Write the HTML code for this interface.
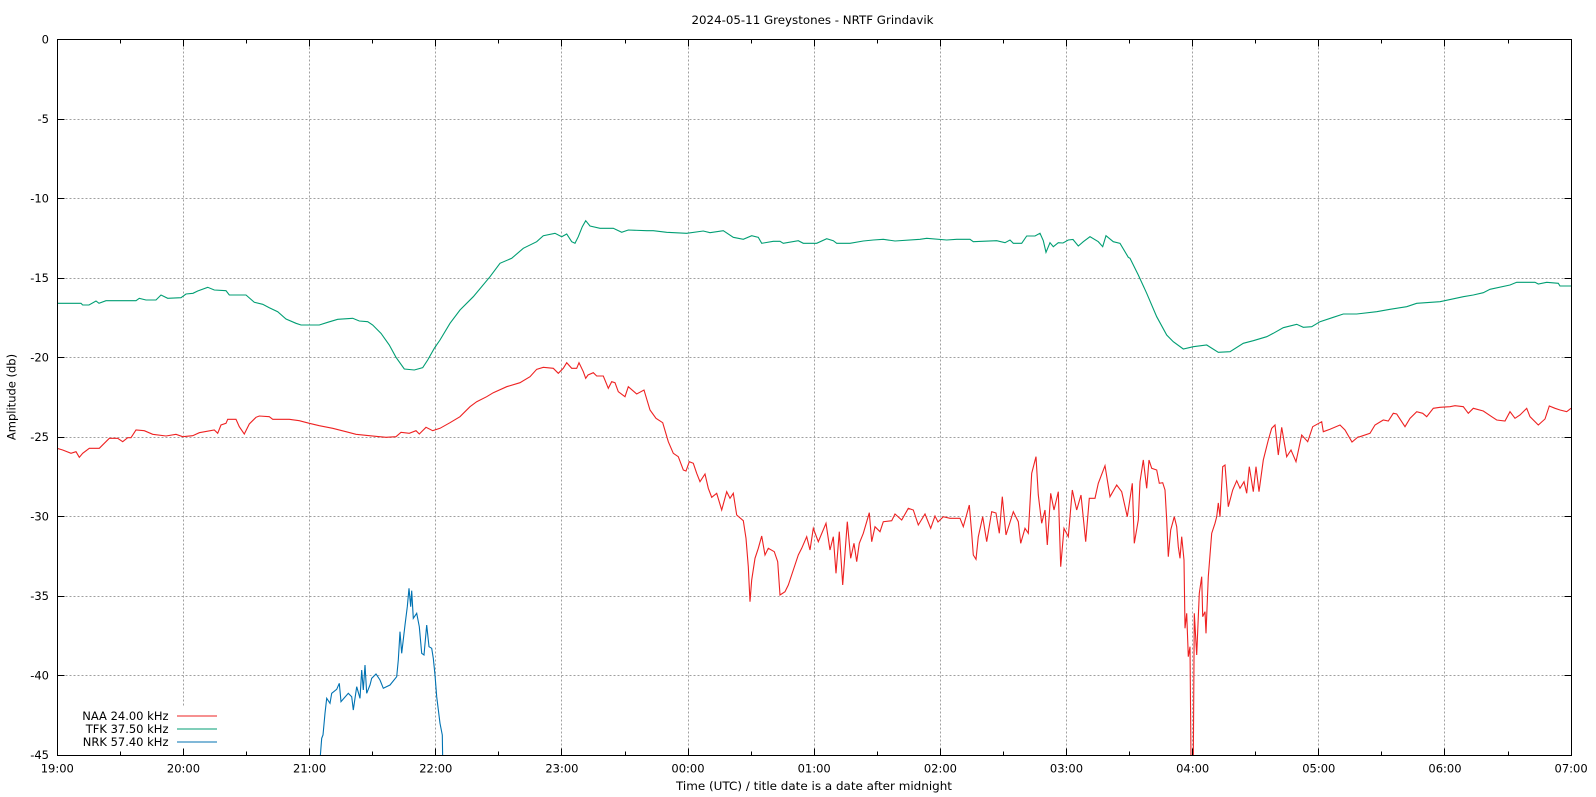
<!DOCTYPE html>
<html>
<head>
<meta charset="utf-8">
<style>
  html,body{margin:0;padding:0;background:#fff;}
  svg{display:block;}
  text{font-family:"DejaVu Sans","Liberation Sans",sans-serif;font-size:11.5px;fill:#000;}
</style>
</head>
<body>
<svg width="1596" height="797" viewBox="0 0 1596 797" xmlns="http://www.w3.org/2000/svg">
  <rect x="0" y="0" width="1596" height="797" fill="#fff"/>

  <!-- grid -->
  <g stroke="#a0a0a0" stroke-width="1" stroke-dasharray="2,2" shape-rendering="crispEdges" fill="none">
    <path d="M183.5 39.5V755.5 M309.5 39.5V755.5 M435.5 39.5V755.5 M561.5 39.5V755.5 M688.5 39.5V755.5 M814.5 39.5V755.5 M940.5 39.5V755.5 M1066.5 39.5V755.5 M1192.5 39.5V755.5 M1318.5 39.5V755.5 M1444.5 39.5V755.5"/>
    <path d="M57.5 119.5H1571.5 M57.5 198.5H1571.5 M57.5 278.5H1571.5 M57.5 357.5H1571.5 M57.5 437.5H1571.5 M57.5 516.5H1571.5 M57.5 596.5H1571.5 M57.5 675.5H1571.5"/>
  </g>

  <!-- legend background -->
  <rect x="58" y="707" width="168" height="47" fill="#fff"/>

  <!-- series -->
  <svg x="57.5" y="39.5" width="1514" height="716" viewBox="57.5 39.5 1514 716" overflow="hidden">
  <g fill="none" stroke-width="1.1" stroke-linejoin="miter">
    <polyline stroke="#009e73" points="57,303.3 81,303.3 82.7,305 89,305 96,301 99,303.3 106,300.7 136,300.7 139.3,298.3 146,300 156,300 161,295 167.7,298.3 181,297.7 186,294 193,293.3 197.7,291 207.7,287.3 214.3,290 226,290.7 229.3,295 246,295 254.3,302.3 262.7,304.3 269.3,307.7 277.7,311.7 286,319 296,323.3 301,325 319.3,325 327.7,322.3 337.7,319.3 352.7,318.3 359.3,321 367.7,321.7 372.7,325 381,333.3 389.3,345 396,357.3 404.3,369 414.3,370 422.7,367.7 427.7,360 434.3,348.3 440,340 450,323.3 460,310 473.3,296.7 490,276.7 500,263.3 511.7,258.3 523.3,248.3 536.7,241.7 543.3,235.7 555,233.3 561.7,236.7 566.7,234 571.7,241.7 575,243.3 578.3,236.7 582.3,226.7 585.7,220.7 590,226 600,228.3 613.3,228.3 621.7,232.3 628.3,230 646.7,230.7 653.3,230.7 666.7,232.3 686.7,233.3 703.3,231 710,232.7 723.3,230.7 733.3,237.3 743.3,239.3 751.7,235.7 758.3,237.3 761.7,243.3 773.3,241.3 780,241.3 783.3,243.3 798.3,240.7 803.3,243.3 816.7,243.3 826.7,238.7 833.3,240.7 836.7,243.3 850,243.3 863.3,241 873.3,240 883.3,239.3 895,241 920,239.3 926.7,238.3 946.7,240 956.7,239.3 970,239.3 973.3,241.7 996.7,240.7 1005,242.7 1010,240 1013.3,243.3 1021.7,243.3 1026.7,236 1035,236 1040,233.3 1043.3,240.7 1046,252.3 1050,242.7 1053.3,246.7 1058.3,242.7 1063,243 1068.3,240 1073,239.5 1078.3,246 1083.3,241.7 1090,236.7 1098.3,241.7 1102.7,246.7 1106,235.7 1113.3,241.7 1120,243.3 1128.3,257.3 1130,258.3 1138.3,275 1146.7,293.3 1156.7,316.7 1166.7,335 1173.3,341.7 1183.3,349 1193.3,346.7 1206.7,345 1218.3,352.3 1230,351.7 1243.3,343.3 1253.3,340.7 1266.7,336.7 1273.3,333.3 1283.3,327.7 1296.7,324.3 1303.3,327.3 1311.7,326.7 1320,321.7 1333.3,317.3 1343.3,314 1356.7,314 1376.7,311.7 1390,309.3 1406.7,306.7 1416.7,303.3 1440,301.7 1463.3,296.7 1473.3,295 1483.3,292.7 1490,289.3 1510,285 1516.7,282.3 1535,282.3 1538.3,284 1546.7,282.3 1558.3,283.3 1560,286 1571,286"/>
    <polyline stroke="#ee2222" points="57,448.3 62.7,450 71,453.3 76,451.7 79.3,457.3 82.7,453.3 89.3,448.3 99.3,448.3 109.3,438.3 117.7,438.3 122.7,441.7 127.7,437.7 131,437.7 136,430 144.3,430.7 152.7,434.3 166,436 176,434.3 182.7,436.7 192.7,435.7 199.3,432.7 214.3,430 217.7,433.3 221,425 226,423.3 227.7,419.3 236,419.3 239.3,426.7 244.3,434 249.3,424 256,417.3 259.3,416 269.3,416.7 272.7,419.3 289.3,419.3 299.3,420.7 309.3,423.3 319.3,425.7 332.7,428.3 346,431.7 356,434.3 369.3,435.7 386,437.3 396,436.7 401,432.3 409.3,433.3 416,430.7 419.3,434 426,427.3 432.7,430.7 440,428.3 450,422.7 460,416.7 470,406.7 476.7,401.7 486.7,396.7 493.3,392.7 506.7,386.7 520,382.7 530,376.7 536.7,369.3 543.3,367.3 553.3,368.3 558.3,373.3 563.3,368.3 566.7,362.7 571.7,368.3 576.7,368.3 579,362.7 583.3,371.7 585.7,378.3 588,375 593.3,372.7 596.7,376 603.3,376 608.3,388.3 611.7,381.7 615,382.7 618.3,391.7 625,396.7 628.3,386.7 636.7,394 644,390 650,410 656,418.3 662.7,422.7 668.3,441.7 673.3,453.3 678.3,456.7 683.3,470 686,471 689.3,461.7 693.3,463.3 696.7,473.3 700,481.7 705,474 708.3,488.3 711.7,497.3 716.7,493.3 721.7,510 726.7,491.7 730,498.3 733.3,493.3 736.7,515 743.3,520.7 746,538.3 748.3,566.7 750,601.7 751.7,580 755,558.3 758.3,548.3 761.7,536 765,555 768.3,548.3 774.3,551.7 777.7,561.7 780,595 785,591.7 788.3,585 793.3,570 798.3,555 801.7,548.3 806.7,536.7 810,550 813.3,528.3 818.3,541.7 826,523.3 830,550 833.3,536.7 836,573.3 839.3,531.7 842.7,585 847.3,521.7 850.7,558.3 854,543.3 856.7,561.7 859.3,543.3 863.3,533.3 866.7,521.7 869.3,512.7 871.7,541.7 875,526.7 880,531.7 883.3,521.7 891.7,520.7 895,514 901.7,520 908.3,508.3 913.3,510 918.3,525 925,514 930.7,528.3 935,516 938,522 943.3,516.7 950,518.3 960,518.3 963.3,526.7 969.3,505 971.7,533.3 973.3,555 976,559.3 978.3,536.7 982.7,516.7 986.7,541.7 991.7,511.7 996,513 999.3,533.3 1002.3,496.7 1006,535 1013.3,511.7 1018.3,521.7 1020.7,543.3 1025,528.3 1028.3,533.3 1031.7,473.3 1036,456.7 1038.3,495 1041.7,523.3 1045,510 1047.3,545 1050.7,493.3 1054,510 1058.3,491.7 1060.7,566.7 1064,528.3 1068.3,536.7 1072.3,490 1076.7,510 1081,495 1085.7,541.7 1089.3,498.3 1095,498.3 1098.3,483.3 1105,465.7 1110,496.7 1116.7,485 1121.7,491.7 1127.3,516.7 1132.3,483.3 1134.3,543.3 1138.3,520 1140,481.7 1143.3,460 1146.7,488.3 1149,460 1151.7,468.3 1156.7,470 1159.3,483.3 1162.7,482.7 1165,490 1166.7,520 1168.3,556.7 1170.7,530 1174.3,516.7 1176.7,526.7 1178.3,546.7 1180,558.3 1181.7,536.7 1184,560 1185,628.3 1186.7,613.3 1188.3,656.7 1190,646.7 1191,760 1193.3,760 1194.3,613.3 1196.7,655 1199.3,593.3 1201.7,576.7 1202.7,616.7 1205,611.7 1206,633.3 1208.3,576.7 1211.7,533.3 1215,523.3 1216.7,516.7 1218.3,503 1220,516.7 1222.7,466.7 1225,465 1228.3,506.7 1232.7,490 1236.7,480.7 1240,488.3 1244,481.7 1246.7,493.3 1249.3,466.7 1253.3,491.7 1256,466.7 1259,491.7 1263.3,460 1268.3,440 1271.7,428.3 1275,425 1278.3,455 1281.7,427.3 1286.7,456.7 1291,450 1296,461.7 1301.7,435 1307.7,441.7 1312.7,426.7 1321.7,421.7 1323.3,431.7 1330,429.3 1340,425 1345,430 1352,442 1358,437 1360,436.7 1370,433.3 1375,425 1383.3,420 1388.3,421 1393.3,413.3 1396.7,414 1405,426.7 1410,418.3 1416.7,411.7 1422.7,413.3 1426.7,416.7 1433.3,408.3 1440,407.3 1450,406.7 1455,405.7 1463.3,406.7 1468.3,413.3 1473.3,408.3 1483.3,411 1491.7,416.7 1496.7,420 1505,421 1510,411.7 1515,418.3 1520,415 1526.7,408.3 1530,416.7 1538.3,425 1545,419 1549.3,406 1555,408.3 1560,410 1566.7,411.7 1571,408.3"/>
    <polyline stroke="#0072b2" points="320,760 321.7,738.3 323,735 325,713.3 326.7,698.3 330,703.3 331.7,693.3 336.7,689.3 339.3,683.3 341,701.7 343.3,699 348.3,693.3 351.7,696.7 353.3,710 356.7,686.7 360,698.3 361.7,670 363.3,690 365,665 366.7,693.3 370,685 371.7,678.3 376,674 380,680 383.3,688.3 390,685 396.7,676.7 398.3,660 400,631.7 401.7,653.3 405,625 407.3,606.7 409,588.3 410.7,606.7 411.7,590.7 413.3,618.3 416.7,613.3 419.3,626.7 421.7,653.3 424,655 426.7,625 429,646.7 431.7,648.3 433.3,658.3 435,675 436.7,696.7 440,723.3 442.3,735 442.7,760"/>
  </g>
  </svg>

  <!-- frame -->
  <rect x="57.5" y="39.5" width="1514" height="716" fill="none" stroke="#000" stroke-width="1" shape-rendering="crispEdges"/>

  <!-- ticks -->
  <g stroke="#000" stroke-width="1" shape-rendering="crispEdges" fill="none">
    <!-- x major bottom/top -->
    <path d="M183.5 755.5v-7 M309.5 755.5v-7 M435.5 755.5v-7 M561.5 755.5v-7 M688.5 755.5v-7 M814.5 755.5v-7 M940.5 755.5v-7 M1066.5 755.5v-7 M1192.5 755.5v-7 M1318.5 755.5v-7 M1444.5 755.5v-7"/>
    <path d="M183.5 39.5v7 M309.5 39.5v7 M435.5 39.5v7 M561.5 39.5v7 M688.5 39.5v7 M814.5 39.5v7 M940.5 39.5v7 M1066.5 39.5v7 M1192.5 39.5v7 M1318.5 39.5v7 M1444.5 39.5v7"/>
    <!-- x minor -->
    <path d="M120.5 755.5v-4 M246.5 755.5v-4 M372.5 755.5v-4 M498.5 755.5v-4 M625.5 755.5v-4 M751.5 755.5v-4 M877.5 755.5v-4 M1003.5 755.5v-4 M1129.5 755.5v-4 M1255.5 755.5v-4 M1381.5 755.5v-4 M1508.5 755.5v-4"/>
    <path d="M120.5 39.5v4 M246.5 39.5v4 M372.5 39.5v4 M498.5 39.5v4 M625.5 39.5v4 M751.5 39.5v4 M877.5 39.5v4 M1003.5 39.5v4 M1129.5 39.5v4 M1255.5 39.5v4 M1381.5 39.5v4 M1508.5 39.5v4"/>
    <!-- y major left/right -->
    <path d="M57.5 119.5h7 M57.5 198.5h7 M57.5 278.5h7 M57.5 357.5h7 M57.5 437.5h7 M57.5 516.5h7 M57.5 596.5h7 M57.5 675.5h7"/>
    <path d="M1571.5 119.5h-7 M1571.5 198.5h-7 M1571.5 278.5h-7 M1571.5 357.5h-7 M1571.5 437.5h-7 M1571.5 516.5h-7 M1571.5 596.5h-7 M1571.5 675.5h-7"/>
  </g>

  <!-- y tick labels -->
  <g text-anchor="end">
    <text x="49" y="43.5">0</text>
    <text x="49" y="123">-5</text>
    <text x="49" y="202.5">-10</text>
    <text x="49" y="282">-15</text>
    <text x="49" y="361.5">-20</text>
    <text x="49" y="441">-25</text>
    <text x="49" y="520.5">-30</text>
    <text x="49" y="600">-35</text>
    <text x="49" y="679.5">-40</text>
    <text x="49" y="759">-45</text>
  </g>

  <!-- x tick labels -->
  <g text-anchor="middle">
    <text x="57.3" y="772.5">19:00</text>
    <text x="183.5" y="772.5">20:00</text>
    <text x="309.6" y="772.5">21:00</text>
    <text x="435.8" y="772.5">22:00</text>
    <text x="561.9" y="772.5">23:00</text>
    <text x="688" y="772.5">00:00</text>
    <text x="814.2" y="772.5">01:00</text>
    <text x="940.4" y="772.5">02:00</text>
    <text x="1066.5" y="772.5">03:00</text>
    <text x="1192.7" y="772.5">04:00</text>
    <text x="1318.8" y="772.5">05:00</text>
    <text x="1445" y="772.5">06:00</text>
    <text x="1571.1" y="772.5">07:00</text>
  </g>

  <!-- titles -->
  <text x="812.5" y="24" text-anchor="middle" textLength="242" lengthAdjust="spacingAndGlyphs">2024-05-11 Greystones - NRTF Grindavik</text>
  <text x="814" y="790" text-anchor="middle" textLength="276" lengthAdjust="spacingAndGlyphs">Time (UTC) / title date is a date after midnight</text>
  <text transform="translate(15.5,397) rotate(-90)" text-anchor="middle">Amplitude (db)</text>

  <!-- legend -->
  <g text-anchor="end">
    <text x="168.5" y="719.8">NAA 24.00 kHz</text>
    <text x="168.5" y="732.8">TFK 37.50 kHz</text>
    <text x="168.5" y="745.8">NRK 57.40 kHz</text>
  </g>
  <g stroke-width="1.1" shape-rendering="crispEdges">
    <line x1="177" y1="716" x2="217" y2="716" stroke="#ee2222"/>
    <line x1="177" y1="729" x2="217" y2="729" stroke="#009e73"/>
    <line x1="177" y1="742" x2="217" y2="742" stroke="#0072b2"/>
  </g>
</svg>
</body>
</html>
